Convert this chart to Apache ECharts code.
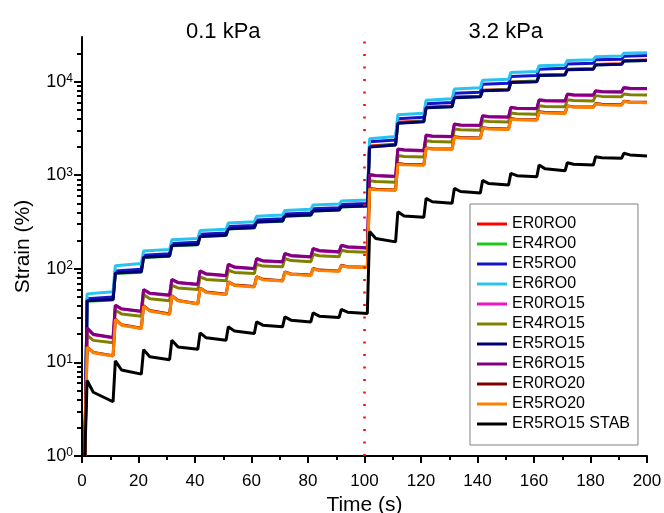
<!DOCTYPE html>
<html>
<head>
<meta charset="utf-8">
<script src="https://cdn.jsdelivr.net/npm/echarts@6/dist/echarts.min.js"></script>
<style>html,body{margin:0;padding:0;background:#fff}#c{width:664px;height:513px}</style>
</head>
<body>
<div id="c"></div>
<script>
// ---- data ----
const seriesNames = ['ER0RO0','ER4RO0','ER5RO0','ER6RO0','ER0RO15','ER4RO15','ER5RO15','ER6RO15','ER0RO20','ER5RO20','ER5RO15 STAB'];
const seriesColors = ['#ff0000','#1ec81e','#1414c8','#28c3f0','#f014c8','#808000','#000070','#800080','#800000','#ff8000','#000000'];
const stepTimes = [1, 11, 21, 31, 41, 51, 61, 71, 81, 91, 101, 111, 121, 131, 141, 151, 161, 171, 181, 191];
const startStrain = 1;
const timeMax = 200;
const pressureChangeTime = 100;
const pressureLabels = ['0.1 kPa', '3.2 kPa'];
const xTickInterval = 20;
const yMajorTicks = [1, 10, 100, 1000, 10000];

const ER0RO0_peak = [46, 91, 135, 179, 225, 271, 320, 370, 420, 465, 2050, 3680, 5330, 6850, 8100, 9900, 11750, 13550, 15250, 16750];
const ER0RO0_end  = [47.5, 94, 139, 184, 231, 278, 328, 380, 430, 476, 2140, 3800, 5480, 7000, 8250, 10150, 11950, 13800, 15500, 17000];

const ER4RO0_peak = [45, 89, 132, 176, 221, 267, 315, 365, 414, 459, 2010, 3620, 5270, 6780, 8050, 9850, 11650, 13450, 15150, 16650];
const ER4RO0_end  = [46.5, 92, 136, 181, 227, 274, 323, 374, 424, 469, 2110, 3750, 5420, 6920, 8180, 10050, 11850, 13650, 15350, 16850];

const ER5RO0_peak = [48, 95, 140, 186, 234, 283, 333, 386, 438, 487, 2280, 4020, 5800, 7500, 9400, 11350, 13600, 15400, 17100, 18700];
const ER5RO0_end  = [50, 99, 145, 192, 241, 291, 342, 396, 449, 499, 2380, 4160, 5970, 7710, 9620, 11600, 13900, 15700, 17400, 19000];

const ER6RO0_peak = [54, 108, 155, 204, 256, 309, 365, 421, 480, 530, 2450, 4420, 6330, 8350, 10350, 12500, 14800, 16800, 18500, 20100];
const ER6RO0_end  = [57, 114, 161, 211, 264, 318, 375, 432, 492, 545, 2600, 4600, 6550, 8600, 10600, 12800, 15100, 17100, 18800, 20400];

const ER0RO15_peak = [23.1, 40.5, 59.6, 76.4, 94.4, 111, 128, 144.5, 163, 177, 1010, 1890, 2660, 3500, 4290, 5270, 6340, 7290, 7900, 8560];
const ER0RO15_knee = [19.8, 37.1, 54.4, 70.8, 87.6, 103.5, 121, 137.5, 155, 170, 985, 1850, 2600, 3420, 4200, 5160, 6220, 7160, 7760, 8420];
const ER0RO15_end  = [18.3, 34.9, 51.9, 67.7, 84.2, 100, 118, 133.5, 150.5, 166, 965, 1820, 2570, 3390, 4160, 5120, 6180, 7120, 7720, 8390];

const ER4RO15_peak = [19.5, 36.1, 53.2, 66.7, 82.0, 96.6, 112, 129, 143, 158, 875, 1625, 2340, 3120, 3830, 4630, 5540, 6420, 7090, 7400];
const ER4RO15_knee = [17.2, 33.0, 48.0, 62.5, 77.0, 91.5, 107, 122.5, 138, 153, 855, 1590, 2290, 3060, 3760, 4540, 5440, 6300, 6960, 7260];
const ER4RO15_end  = [16.2, 31.2, 45.5, 60.2, 74.4, 89, 105, 119, 135, 150, 840, 1570, 2260, 3020, 3710, 4490, 5380, 6230, 6880, 7180];

const ER5RO15_peak = [45.5, 90, 133, 177, 222, 268, 316, 366, 415, 460, 2000, 3600, 5250, 6750, 8000, 9800, 11600, 13400, 15100, 16600];
const ER5RO15_end  = [47, 93, 137, 182, 228, 275, 324, 375, 425, 470, 2100, 3730, 5400, 6900, 8150, 10000, 11800, 13600, 15300, 16800];

const ER6RO15_peak = [23.4, 40.9, 60.2, 77.2, 95.4, 112, 129, 146, 165, 179, 1020, 1910, 2690, 3530, 4330, 5320, 6400, 7360, 7980, 8650];
const ER6RO15_knee = [20.0, 37.5, 55.0, 71.5, 88.5, 104.5, 122, 139, 157, 172, 995, 1870, 2630, 3450, 4240, 5210, 6280, 7230, 7840, 8500];
const ER6RO15_end  = [18.5, 35.3, 52.4, 68.4, 85.1, 101, 119, 135, 152, 168, 975, 1840, 2600, 3420, 4200, 5170, 6240, 7190, 7800, 8470];

const ER0RO20_peak = [14.7, 29.0, 40.3, 51.6, 62.5, 72.6, 82.7, 92.8, 101, 109, 722, 1333, 1960, 2575, 3210, 4030, 4760, 5500, 5840, 6180];
const ER0RO20_knee = [12.8, 25.2, 35.8, 45.9, 56.5, 67.1, 77.2, 88.3, 96.9, 105.5, 707, 1308, 1924, 2525, 3150, 3950, 4670, 5400, 5730, 6070];
const ER0RO20_end  = [11.8, 23.2, 32.9, 42.4, 53.5, 64.6, 74.7, 85.8, 94.9, 104, 697, 1293, 1904, 2495, 3120, 3910, 4620, 5350, 5670, 6010];

const ER5RO20_peak = [14.6, 28.8, 40.0, 51.2, 62, 72, 82, 92, 100, 108, 715, 1320, 1940, 2550, 3180, 3990, 4710, 5450, 5780, 6120];
const ER5RO20_knee = [12.7, 25.0, 35.5, 45.5, 56.0, 66.5, 76.5, 87.5, 96, 104.5, 700, 1295, 1905, 2500, 3120, 3910, 4620, 5350, 5670, 6010];
const ER5RO20_end  = [11.7, 23.0, 32.6, 42.0, 53.0, 64, 74, 85, 94, 103, 690, 1280, 1885, 2470, 3090, 3870, 4570, 5300, 5610, 5950];

const STAB_peak = [6.4, 10.4, 13.7, 17.3, 20.7, 24.0, 27.1, 30.7, 33.8, 36.8, 250, 407, 566, 724, 880, 1047, 1285, 1360, 1580, 1715];
const STAB_knee = [4.8, 8.3, 11.5, 14.6, 18.3, 21.6, 25.0, 28.3, 31.2, 34.4, 211, 366, 521, 670, 815, 990, 1170, 1310, 1540, 1650];
const STAB_end  = [3.8, 7.5, 10.7, 13.8, 17.3, 20.4, 24.0, 27.1, 30.2, 33.4, 194, 355, 501, 645, 785, 964, 1117, 1285, 1517, 1610];

// ---- build ----
const seriesValues = [
  [ER0RO0_peak, null, ER0RO0_end],
  [ER4RO0_peak, null, ER4RO0_end],
  [ER5RO0_peak, null, ER5RO0_end],
  [ER6RO0_peak, null, ER6RO0_end],
  [ER0RO15_peak, ER0RO15_knee, ER0RO15_end],
  [ER4RO15_peak, ER4RO15_knee, ER4RO15_end],
  [ER5RO15_peak, null, ER5RO15_end],
  [ER6RO15_peak, ER6RO15_knee, ER6RO15_end],
  [ER0RO20_peak, ER0RO20_knee, ER0RO20_end],
  [ER5RO20_peak, ER5RO20_knee, ER5RO20_end],
  [STAB_peak, STAB_knee, STAB_end]
];
function buildPoints(peak, knee, end) {
  const pts = [[stepTimes[0], startStrain]];
  for (let i = 0; i < stepTimes.length; i++) {
    const t = stepTimes[i];
    const tNext = i < stepTimes.length - 1 ? stepTimes[i + 1] : timeMax;
    pts.push([t + 0.8, peak[i]]);
    if (knee) pts.push([t + 3, knee[i]]);
    pts.push([tNext, end[i]]);
  }
  return pts;
}
const FONT = '"Liberation Sans", Arial, sans-serif';
const series = seriesNames.map((name, k) => ({
  name: name,
  type: 'line',
  data: buildPoints(seriesValues[k][0], seriesValues[k][1], seriesValues[k][2]),
  showSymbol: false,
  symbol: 'none',
  color: seriesColors[k],
  lineStyle: { width: 3, color: seriesColors[k] },
  animation: false,
  z: 3
}));
series[0].markLine = {
  silent: true, symbol: 'none', animation: false,
  lineStyle: { color: '#ff0000', width: 2.5, type: [2, 10.5] },
  label: { show: false },
  data: [{ xAxis: pressureChangeTime }]
};
series[0].markArea = {
  silent: true, animation: false,
  itemStyle: { color: 'rgba(0,0,0,0)' },
  label: { show: true, position: 'top', distance: -6, fontSize: 22, color: '#000', fontFamily: FONT },
  data: [
    [{ xAxis: 0, name: pressureLabels[0] }, { xAxis: pressureChangeTime }],
    [{ xAxis: pressureChangeTime, name: pressureLabels[1] }, { xAxis: timeMax }]
  ]
};

const chart = echarts.init(document.getElementById('c'), null, { renderer: 'canvas' });
chart.setOption({
  animation: false,
  backgroundColor: '#fff',
  textStyle: { fontFamily: FONT },
  grid: { left: 82, right: 17, top: 37, bottom: 57, containLabel: false, outerBoundsMode: 'none' },
  legend: {
    orient: 'vertical', left: 470, top: 204,
    padding: [10, 8, 11, 7], itemGap: 0, itemWidth: 30, itemHeight: 3,
    icon: 'rect', borderColor: '#808080', borderWidth: 1,
    textStyle: { fontSize: 16, lineHeight: 20, color: '#000', fontFamily: FONT },
    data: seriesNames
  },
  xAxis: {
    type: 'value', min: 0, max: timeMax, interval: xTickInterval,
    name: 'Time (s)', nameLocation: 'middle', nameGap: 34,
    nameTextStyle: { fontSize: 21, color: '#000', fontFamily: FONT },
    axisLine: { show: true, onZero: false, lineStyle: { color: '#000', width: 2 } },
    axisTick: { show: true, length: 7, lineStyle: { color: '#000', width: 2 } },
    minorTick: { show: true, splitNumber: 2, length: 4, lineStyle: { color: '#000', width: 2 } },
    axisLabel: { fontSize: 17, color: '#000', margin: 17, fontFamily: FONT },
    splitLine: { show: false }, minorSplitLine: { show: false }
  },
  yAxis: {
    type: 'log', logBase: 10, min: 1, max: 30000,
    name: 'Strain (%)', nameLocation: 'middle', nameGap: 48,
    nameTextStyle: { fontSize: 21, color: '#000', fontFamily: FONT },
    axisLine: { show: true, onZero: false, lineStyle: { color: '#000', width: 2 } },
    axisTick: { show: true, length: 8, customValues: yMajorTicks, lineStyle: { color: '#000', width: 2 } },
    minorTick: { show: true, splitNumber: 9, length: 5, lineStyle: { color: '#000', width: 2 } },
    axisLabel: {
      customValues: yMajorTicks, margin: 9, color: '#000',
      formatter: v => '{b|10}{s|' + Math.round(Math.log10(v)) + '}',
      rich: {
        b: { fontSize: 18, color: '#000', fontFamily: FONT },
        s: { fontSize: 12, color: '#000', fontFamily: FONT, verticalAlign: 'top' }
      }
    },
    splitLine: { show: false }, minorSplitLine: { show: false }
  },
  series: series
});
</script>
</body>
</html>
